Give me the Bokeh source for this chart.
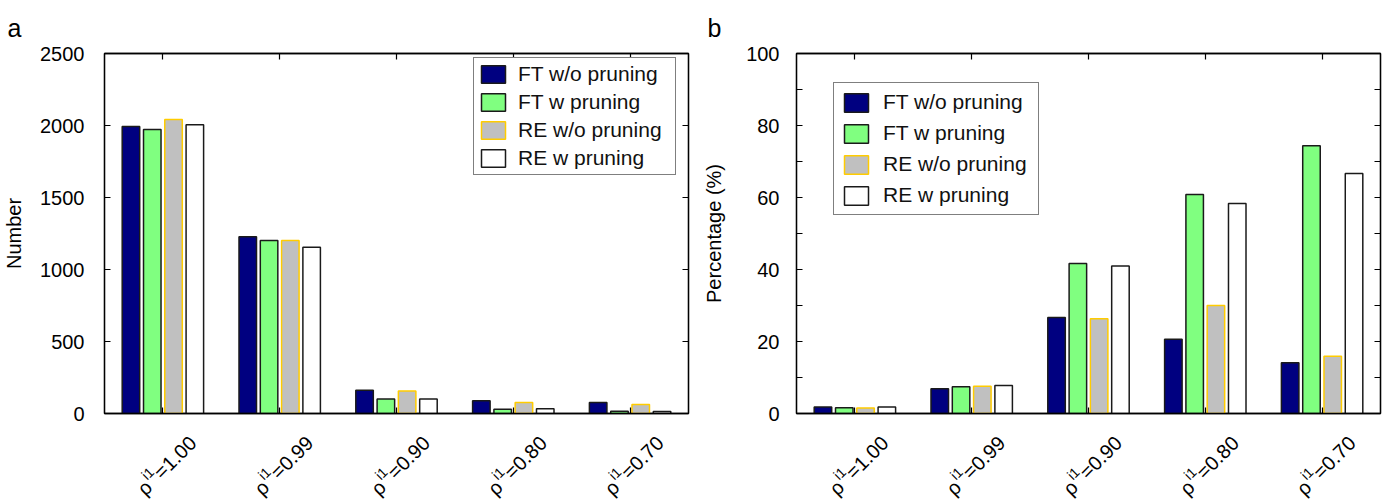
import math
from bokeh.plotting import figure
from bokeh.models import (ColumnDataSource, LinearAxis, FixedTicker, Range1d,
                          Legend, LegendItem)
from bokeh.layouts import row, column
from bokeh.core.properties import value
from bokeh.transform import dodge
from bokeh.embed import file_html
from bokeh.resources import INLINE

# ---------------- data ----------------
categories = ["1.00", "0.99", "0.90", "0.80", "0.70"]
series_names = ["FT w/o pruning", "FT w pruning", "RE w/o pruning", "RE w pruning"]

number_ft_wo = [1993, 1227, 161, 88, 76]
number_ft_w = [1972, 1201, 101, 30, 16]
number_re_wo = [2042, 1201, 157, 76, 62]
number_re_w = [2005, 1155, 101, 33, 14]

pct_ft_wo = [1.8, 6.9, 26.7, 20.6, 14.1]
pct_ft_w = [1.6, 7.4, 41.7, 60.8, 74.4]
pct_re_wo = [1.5, 7.6, 26.3, 30.0, 15.9]
pct_re_w = [1.8, 7.8, 41.0, 58.3, 66.7]

number_ticks = [0, 500, 1000, 1500, 2000, 2500]
pct_ticks = [0, 20, 40, 60, 80, 100]
pct_minor = [10, 30, 50, 70, 90]

panel_letters = ["a", "b"]

# ---------------- style ----------------
FONT = "Liberation Sans"
fills = ["#000080", "#80FF80", "#C0C0C0", "#FFFFFF"]
edges = ["#1a1a1a", "#1a1a1a", "#FFCC00", "#1a1a1a"]
offsets = [-0.2735, -0.091, 0.091, 0.2735]
BAR_W = 0.15
FRAME_W, FRAME_H = 584, 360
TOP_B, BOT_B = 10, 20          # borders of the main figure
HEAD_H, FOOT_H = 43, 71        # header (panel letter) and footer (rotated labels)


def style_axis(ax, labels=True):
    ax.major_tick_in = 6
    ax.major_tick_out = 0
    ax.minor_tick_in = 0
    ax.minor_tick_out = 0
    ax.axis_line_color = "black"
    ax.axis_line_width = 1.3
    ax.major_tick_line_color = "black"
    ax.major_tick_line_width = 1.2
    ax.minor_tick_line_color = "black"
    ax.minor_tick_line_width = 1.2
    ax.major_label_text_font = FONT
    ax.major_label_text_font_size = "20px"
    ax.major_label_text_color = "black"
    ax.axis_label_text_font = FONT
    ax.axis_label_text_font_size = "20px"
    ax.axis_label_text_font_style = "normal"
    ax.axis_label_text_color = "black"
    if not labels:
        ax.major_label_standoff = 0
        ax.major_label_text_font_size = "1px"


def blank(fig):
    fig.outline_line_color = None
    fig.background_fill_color = "white"
    fig.border_fill_color = "white"
    fig.xgrid.grid_line_color = None
    fig.ygrid.grid_line_color = None


def make_panel(values, y_max, ticks, minor, ylabel, letter,
               bl, br, leg_loc, leg_pad, leg_spacing, leg_gh, leg_standoff,
               leg_lw, tick_standoff, label_standoff, letter_x):
    total_w = bl + FRAME_W + br

    # ---- header with panel letter ----
    head = figure(frame_width=total_w, frame_height=HEAD_H,
                  x_range=Range1d(0, total_w), y_range=Range1d(HEAD_H, 0),
                  output_backend="svg", toolbar_location=None,
                  x_axis_location=None, y_axis_location=None,
                  min_border=0, min_border_left=0, min_border_right=0,
                  min_border_top=0, min_border_bottom=0)
    head.frame_align = False
    blank(head)
    head.text(x=[letter_x], y=[27], text=[letter], text_font=value(FONT),
              text_font_size="25px", text_align="left",
              text_baseline="alphabetic", text_color="black")

    # ---- main chart ----
    p = figure(frame_width=FRAME_W, frame_height=FRAME_H,
               x_range=Range1d(0.5, 5.5), y_range=Range1d(0, y_max),
               output_backend="svg", toolbar_location=None,
               x_axis_location=None, y_axis_location=None,
               min_border_left=bl, min_border_right=br,
               min_border_top=TOP_B, min_border_bottom=BOT_B)
    p.outline_line_color = "black"
    p.outline_line_width = 1.3
    p.background_fill_color = "white"
    p.border_fill_color = "white"
    p.xgrid.grid_line_color = None
    p.ygrid.grid_line_color = None

    xs = list(range(1, len(categories) + 1))
    data = {"x": xs}
    for i, v in enumerate(values):
        data["s%d" % i] = v
    src = ColumnDataSource(data)

    renderers = []
    for i in range(4):
        r = p.vbar(x=dodge("x", offsets[i], range=p.x_range), top="s%d" % i,
                   width=BAR_W, bottom=0, source=src,
                   fill_color=fills[i], line_color=edges[i], line_width=1.5)
        renderers.append(r)

    yt = FixedTicker(ticks=ticks, minor_ticks=minor)
    left = LinearAxis(ticker=yt, axis_label=ylabel)
    style_axis(left)
    left.minor_tick_in = 6 if minor else 0
    left.major_label_standoff = tick_standoff
    left.axis_label_standoff = label_standoff
    p.add_layout(left, "left")

    right = LinearAxis(ticker=FixedTicker(ticks=ticks, minor_ticks=minor),
                       major_label_overrides={t: "" for t in ticks})
    style_axis(right, labels=False)
    right.minor_tick_in = 6 if minor else 0
    p.add_layout(right, "right")

    bottom = LinearAxis(ticker=FixedTicker(ticks=xs, minor_ticks=[]),
                        major_label_overrides={t: "" for t in xs})
    style_axis(bottom, labels=False)
    p.add_layout(bottom, "below")
    top = LinearAxis(ticker=FixedTicker(ticks=xs, minor_ticks=[]),
                     major_label_overrides={t: "" for t in xs})
    style_axis(top, labels=False)
    p.add_layout(top, "above")

    legend = Legend(items=[LegendItem(label=series_names[i], renderers=[renderers[i]])
                           for i in range(4)],
                    location=leg_loc)
    legend.border_line_color = "black"
    legend.border_line_width = 1.3
    legend.background_fill_color = "white"
    legend.background_fill_alpha = 1.0
    legend.label_text_font = FONT
    legend.label_text_font_size = "21px"
    legend.label_text_color = "#111111"
    legend.glyph_width = 30
    legend.glyph_height = leg_gh
    legend.label_height = leg_gh
    legend.label_width = leg_lw
    legend.label_standoff = leg_standoff
    legend.spacing = leg_spacing
    legend.padding = leg_pad
    legend.margin = 0
    p.add_layout(legend)

    # ---- footer with rotated category labels rho^{i1}=value ----
    foot = figure(frame_width=FRAME_W, frame_height=FOOT_H,
                  x_range=p.x_range, y_range=Range1d(-(BOT_B + FOOT_H), -BOT_B),
                  output_backend="svg", toolbar_location=None,
                  x_axis_location=None, y_axis_location=None,
                  min_border_left=bl, min_border_right=br,
                  min_border_top=0, min_border_bottom=0)
    blank(foot)
    ang = math.pi / 4
    c, s = math.cos(ang), math.sin(ang)
    ex = 30                    # end of baseline, px right of the tick
    base_y = -26               # baseline end, px below the axis
    w1 = 2.53 * 20             # width of "=1.00"
    w2 = 0.778 * 14 + 1        # width of "i1"
    raise_ = 8
    lab_src = ColumnDataSource({"x": xs, "y": [base_y] * len(xs),
                                "main": ["=" + cval for cval in categories],
                                "sup": ["i1"] * len(xs),
                                "rho": ["\u03c1"] * len(xs)})
    common = dict(x="x", y="y", source=lab_src, angle=ang, text_align="right",
                  text_baseline="alphabetic", text_font=value(FONT),
                  text_color="black")
    foot.text(text="main", x_offset=ex, y_offset=0, text_font_size="20px", **common)
    ox, oy = -w1 * c - raise_ * s, -w1 * s + raise_ * c
    foot.text(text="sup", x_offset=ex + ox, y_offset=-oy, text_font_size="14px", **common)
    ox, oy = -(w1 + w2) * c, -(w1 + w2) * s
    foot.text(text="rho", x_offset=ex + ox, y_offset=-oy, text_font_size="20px", **common)

    return column(head, p, foot, spacing=0)


c1 = make_panel([number_ft_wo, number_ft_w, number_re_wo, number_re_w],
                2500, number_ticks, [], "Number", panel_letters[0],
                104, 6, (369, 238), 4, 4, 22, 10, 153, 20, 12, 7)
c2 = make_panel([pct_ft_wo, pct_ft_w, pct_re_wo, pct_re_w],
                100, pct_ticks, pct_minor, "Percentage (%)", panel_letters[1],
                102, 9, (37, 198), 7, 7, 23, 12, 148, 17, 18, 707 - 694)

layout = row(c1, c2, spacing=0)
open("out.html", "w").write(file_html(layout, INLINE))
